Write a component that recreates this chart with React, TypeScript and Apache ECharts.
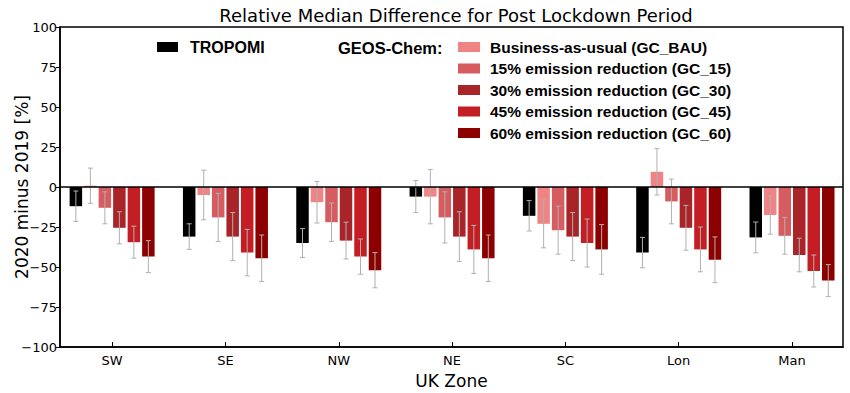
import React, { useEffect, useRef } from "react";
import * as echarts from "echarts";

const categories = ["SW", "SE", "NW", "NE", "SC", "Lon", "Man"];
const seriesNames = [
  "TROPOMI",
  "Business-as-usual (GC_BAU)",
  "15% emission reduction (GC_15)",
  "30% emission reduction (GC_30)",
  "45% emission reduction (GC_45)",
  "60% emission reduction (GC_60)",
];
const tropomi = [-12, -31, -35, -6, -18, -41, -31.5];
const tropomiErr = [9.5, 8, 9, 10, 9.5, 9.5, 9.6];
const gcBAU = [0.8, -5, -9.5, -6, -23, 9.5, -17.5];
const gcBAUErr = [11, 15.5, 13, 17, 15, 14.5, 12];
const gc15 = [-13, -19, -22, -19, -27, -9, -30.5];
const gc15Err = [10, 15, 12, 16, 15, 14, 11.5];
const gc30 = [-25.5, -31, -33.5, -31, -31, -25.5, -42.5];
const gc30Err = [10, 15, 11.5, 15.5, 15, 14, 10.5];
const gc45 = [-34.5, -41, -43.5, -39, -35, -39, -52.5];
const gc45Err = [10, 14.5, 11, 15, 15, 14, 10];
const gc60 = [-43.5, -44.5, -52, -44.5, -39, -45.5, -58.5];
const gc60Err = [10, 14.5, 11, 14.5, 15.5, 14.3, 10];
const yTicks = { min: -100, max: 100, interval: 25 };
const xRange = { min: -0.46, max: 6.45 };

const values = [tropomi, gcBAU, gc15, gc30, gc45, gc60];
const errors = [tropomiErr, gcBAUErr, gc15Err, gc30Err, gc45Err, gc60Err];
const colors = ["#000000", "#f08484", "#d65c60", "#a82428", "#c41e24", "#8c0000"];

const BAR_W = 12.5;
const BAR_GAP = 2;

export default function App() {
  const ref = useRef<HTMLDivElement>(null);
  useEffect(() => {
    if (!ref.current) return;
    const chart = echarts.init(ref.current, null, { renderer: "svg" });
    const axisFont = "DejaVu Sans";
    const legendFont = "Liberation Sans";
    const catIdx = categories.map((_, i) => i);

    const barSeries = values.map((vals, k) => ({
      type: "bar",
      name: seriesNames[k],
      data: vals.map((v, i) => [i, v]),
      barWidth: BAR_W,
      barGap: `${(BAR_GAP / BAR_W) * 100}%`,
      itemStyle: { color: colors[k] },
      z: 2,
      ...(k === 0
        ? {
            markLine: {
              silent: true,
              symbol: "none",
              label: { show: false },
              lineStyle: { color: "#000", width: 1.5, type: "solid" },
              data: [{ yAxis: 0 }],
              z: 5,
            },
          }
        : {}),
    }));

    const errSeries = values.map((vals, k) => {
      const offset = (k - 2.5) * (BAR_W + BAR_GAP);
      return {
        type: "custom",
        name: "err-" + k,
        z: 4,
        silent: true,
        data: vals.map((v, i) => [i, v, errors[k][i]]),
        renderItem: (params: any, api: any) => {
          const ci = api.value(0);
          const v = api.value(1);
          const e = api.value(2);
          const top = api.coord([ci, v + e]);
          const bot = api.coord([ci, v - e]);
          const x = top[0] + offset;
          const style = { stroke: "#b0b0b0", lineWidth: 1 };
          return {
            type: "group",
            children: [
              { type: "line", shape: { x1: x, y1: top[1], x2: x, y2: bot[1] }, style },
              { type: "line", shape: { x1: x - 2.5, y1: top[1], x2: x + 2.5, y2: top[1] }, style },
              { type: "line", shape: { x1: x - 2.5, y1: bot[1], x2: x + 2.5, y2: bot[1] }, style },
            ],
          };
        },
      };
    });

    const legendText = {
      fontFamily: legendFont,
      fontWeight: "bold",
      fontSize: 15.5,
      color: "#000",
      lineHeight: 16,
    };

    chart.setOption({
      animation: false,
      title: {
        text: "Relative Median Difference for Post Lockdown Period",
        left: 451,
        textAlign: "center",
        top: 1,
        textStyle: { fontFamily: axisFont, fontSize: 18, fontWeight: "normal", color: "#000" },
      },
      grid: {
        left: 60,
        right: 7,
        top: 27,
        bottom: 46,
        outerBoundsMode: "none",
        containLabel: false,
        show: true,
        borderColor: "#000",
        borderWidth: 1.5,
        backgroundColor: "transparent",
      },
      legend: [
        {
          data: [seriesNames[0]],
          left: 157,
          top: 39,
          padding: 0,
          itemWidth: 21,
          itemHeight: 10,
          icon: "rect",
          selectedMode: false,
          textStyle: { ...legendText, fontSize: 16, padding: [0, 0, 0, 7] },
        },
        {
          data: seriesNames.slice(1),
          orient: "vertical",
          left: 458,
          top: 39,
          padding: 0,
          itemWidth: 22,
          itemHeight: 10,
          itemGap: 5.5,
          icon: "rect",
          selectedMode: false,
          textStyle: { ...legendText, padding: [0, 0, 0, 5] },
        },
      ],
      graphic: [
        {
          type: "text",
          left: 338,
          top: 39,
          style: {
            text: "GEOS-Chem:",
            font: `bold 16.5px "${legendFont}"`,
            fill: "#000",
            lineHeight: 16,
          },
        },
      ],
      xAxis: {
        type: "value",
        min: xRange.min,
        max: xRange.max,
        name: "UK Zone",
        nameLocation: "middle",
        nameGap: 25,
        nameTextStyle: { fontFamily: axisFont, fontSize: 17, color: "#000" },
        splitLine: { show: false },
        axisLine: { onZero: false, lineStyle: { color: "#000", width: 1.5 } },
        axisTick: {
          inside: true,
          length: 5,
          customValues: catIdx,
          lineStyle: { color: "#000" },
        },
        axisLabel: {
          fontFamily: axisFont,
          fontSize: 13,
          color: "#000",
          margin: 7,
          customValues: catIdx,
          formatter: (v: number) => categories[Math.round(v)] ?? "",
        },
      },
      yAxis: {
        type: "value",
        min: yTicks.min,
        max: yTicks.max,
        interval: yTicks.interval,
        name: "2020 minus 2019 [%]",
        nameLocation: "middle",
        nameGap: 30,
        nameMoveOverlap: false,
        nameRotate: 90,
        nameTextStyle: { fontFamily: axisFont, fontSize: 17, color: "#000" },
        axisLine: { show: true, onZero: false, lineStyle: { color: "#000", width: 1.5 } },
        axisTick: { show: true, length: 4, lineStyle: { color: "#000" } },
        splitLine: { show: false },
        axisLabel: {
          fontFamily: axisFont,
          fontSize: 13,
          color: "#000",
          margin: 3,
          formatter: (v: number) => String(v).replace("-", "\u2212"),
        },
      },
      series: [...barSeries, ...errSeries],
    });
    return () => chart.dispose();
  }, []);
  return <div ref={ref} style={{ width: 850, height: 393, position: "absolute", left: 0, top: 0 }} />;
}
